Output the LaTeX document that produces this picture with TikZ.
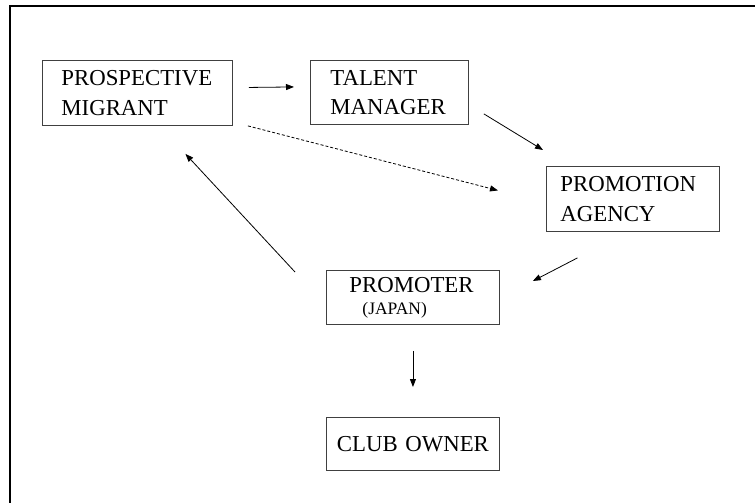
\documentclass[tikz,border=0pt]{standalone}
\usepackage{fontspec}
\setmainfont{Liberation Serif}
\usetikzlibrary{arrows.meta, positioning}
\tikzset{
	entity/.style={rectangle, draw=black!75, line width=0.9pt, anchor=north west, align=left, inner ysep=0pt, font=\fontsize{22.8}{29.5}\selectfont},
	link/.style={-{Triangle[length=8pt, width=6pt]}, line width=0.8pt},
	hint/.style={link, dash pattern=on 3pt off 2pt},
}

\begin{document}
\begin{tikzpicture}[x=1pt, y=-1pt]
	\useasboundingbox (0,0) rectangle (755,503);
	% frame (only top and left edges show)
	\draw[line width=1.6pt] (755,6) -- (10,6) -- (10,503);
	\node[entity, text width=152pt, inner xsep=19pt, minimum height=65pt] (pm) at (42,60) {PROSPECTIVE\\MIGRANT};
	\node[entity, text width=118pt, inner xsep=20pt, minimum height=64pt] (tm) at (310,60) {TALENT\\MANAGER};
	\node[entity, text width=145pt, inner xsep=14pt, minimum height=65pt] (pa) at (546,166) {PROMOTION\\AGENCY};
	\node[entity, text width=127pt, inner xsep=23pt, minimum height=54pt, font=\fontsize{22.8}{22}\selectfont] (pr) at (326,270) {PROMOTER\\\hspace*{13pt}{\fontsize{17.5}{22}\selectfont (JAPAN)}};
	\node[entity, text width=153pt, inner xsep=10pt, minimum height=53pt, align=center] (co) at (326,417) {CLUB OWNER};
	\draw[link] ([yshift=5.5pt]pm.east) ++(16,0) -- ([yshift=5.5pt,xshift=-16pt]tm.west);
	\draw[link] ([xshift=15pt,yshift=11pt]tm.south east) -- ([xshift=-3pt,yshift=16pt]pa.north west);
	\draw[hint] ([xshift=15pt]pm.south east) -- ([xshift=-48pt,yshift=8.5pt]pa.west);
	\draw[link] ([xshift=-55.5pt,yshift=-26pt]pa.south) -- ([xshift=33pt,yshift=-11pt]pr.north east);
	\draw[link] ([xshift=-31pt,yshift=-2pt]pr.north west) -- ([xshift=48pt,yshift=-28pt]pm.south);
	\draw[link, shorten <=26pt, shorten >=30pt] (pr.south) -- (co.north);
\end{tikzpicture}
\end{document}
